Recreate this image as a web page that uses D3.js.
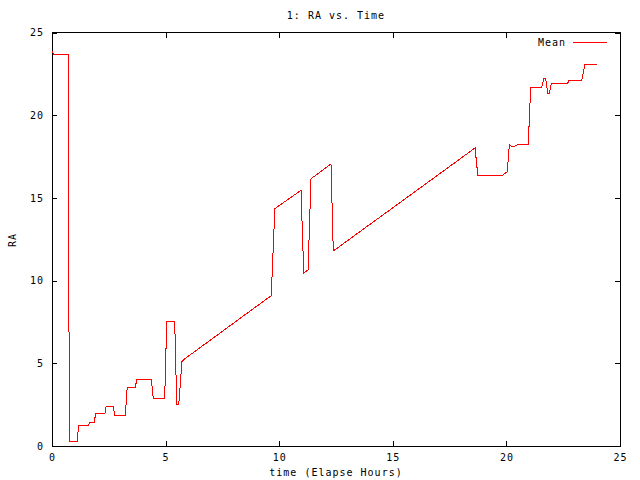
<!DOCTYPE html>
<html>
<head>
<meta charset="utf-8">
<script src="https://cdn.jsdelivr.net/npm/d3@7"></script>
<style>
  html, body { margin: 0; padding: 0; background: #fff; }
  svg text { font-family: "DejaVu Sans Mono", monospace; font-size: 10px; letter-spacing: 1px; fill: #000; }
</style>
</head>
<body>
<svg id="chart" width="640" height="480"></svg>
<script>
// ---- data ----
const title = "1: RA vs. Time";
const xLabel = "time (Elapse Hours)";
const yLabel = "RA";
const seriesName = "Mean";
const xTicks = [0, 5, 10, 15, 20, 25];
const yTicks = [0, 5, 10, 15, 20, 25];
const times = [0, 0.07, 0.72, 0.76, 1.11, 1.17, 1.6, 1.64, 1.86, 1.92, 2.33, 2.38, 2.7, 2.76, 3.23, 3.31,
  3.67, 3.73, 4.37, 4.46, 4.96, 5.05, 5.4, 5.49, 5.58, 5.72, 5.81, 7.0, 8.5, 9.65, 9.81, 10.96, 11.08,
  11.27, 11.4, 12.28, 12.38, 13.56, 15.0, 16.5, 18.62, 18.74, 19.84, 20.04, 20.13, 20.3, 20.48, 20.96,
  21.07, 21.55, 21.64, 21.73, 21.82, 21.89, 21.98, 22.7, 22.74, 23.31, 23.46, 23.97];
const raMean = [23.88, 23.7, 23.7, 0.28, 0.28, 1.21, 1.21, 1.41, 1.41, 1.98, 1.98, 2.36, 2.36, 1.87, 1.87, 3.55,
  3.55, 4.03, 4.03, 2.86, 2.86, 7.54, 7.54, 2.52, 2.52, 5.1, 5.24, 6.43, 7.94, 9.09, 14.35, 15.46, 10.46,
  10.64, 16.16, 17.05, 11.79, 12.97, 14.4, 15.9, 18.02, 16.38, 16.38, 16.58, 18.2, 18.08, 18.2, 18.2,
  21.69, 21.69, 22.19, 22.19, 21.32, 21.32, 21.93, 21.93, 22.07, 22.07, 23.08, 23.08];

// ---- layout ----
const svg = d3.select("#chart");
const L = 52, R = 620, T = 32.5, B = 446;
const x = d3.scaleLinear().domain([0, 25]).range([L, R]);
const y = d3.scaleLinear().domain([0, 25]).range([B, T]);

// axes (ticks inward, mirrored)
const gB = svg.append("g").attr("transform", `translate(0,${B})`)
  .call(d3.axisBottom(x).tickValues(xTicks).tickSizeInner(-5).tickSizeOuter(0).tickPadding(8));
const gL = svg.append("g").attr("transform", `translate(${L},0)`)
  .call(d3.axisLeft(y).tickValues(yTicks).tickSizeInner(-5).tickSizeOuter(0).tickPadding(8));
const gT = svg.append("g").attr("transform", `translate(0,${T})`)
  .call(d3.axisTop(x).tickValues(xTicks).tickSizeInner(-5).tickSizeOuter(0).tickFormat(""));
const gR = svg.append("g").attr("transform", `translate(${R},0)`)
  .call(d3.axisRight(y).tickValues(yTicks).tickSizeInner(-5).tickSizeOuter(0).tickFormat(""));
[gB, gL, gT, gR].forEach(g => {
  g.select(".domain").remove();
  g.selectAll("line").attr("stroke", "#000").attr("shape-rendering", "crispEdges");
  g.selectAll("text").attr("font-family", null).attr("font-size", null).style("fill", "#000");
});

// border
svg.append("rect").attr("x", L).attr("y", T).attr("width", R - L).attr("height", B - T)
  .attr("fill", "none").attr("stroke", "#000").attr("shape-rendering", "crispEdges");

// line
const pts = times.map((t, i) => [t, raMean[i]]);
svg.append("path").datum(pts)
  .attr("fill", "none").attr("stroke", "#ff0000").attr("stroke-width", 1)
  .attr("shape-rendering", "crispEdges")
  .attr("d", d3.line().x(d => x(d[0])).y(d => y(d[1])));

// title & labels
svg.append("text").attr("x", (L + R) / 2).attr("y", 19).attr("text-anchor", "middle").text(title);
svg.append("text").attr("x", (L + R) / 2).attr("y", 476).attr("text-anchor", "middle").text(xLabel);
svg.append("text").attr("transform", `translate(16,240) rotate(-90)`).attr("text-anchor", "middle").text(yLabel);

// legend
svg.append("text").attr("x", 566).attr("y", 46).attr("text-anchor", "end").text(seriesName);
svg.append("line").attr("x1", 573).attr("x2", 607).attr("y1", 42.5).attr("y2", 42.5)
  .attr("stroke", "#ff0000").attr("shape-rendering", "crispEdges");
</script>
</body>
</html>
